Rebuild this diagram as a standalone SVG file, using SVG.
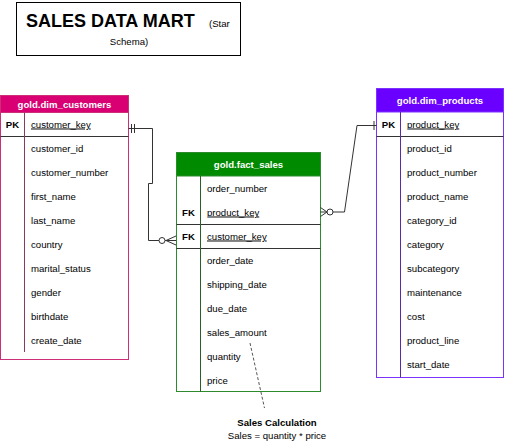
<svg xmlns="http://www.w3.org/2000/svg" width="505" height="441" viewBox="0 0 505 441">
<style>
text{font-family:"Liberation Sans",Arial,sans-serif;font-size:9.6px;fill:#000}
.hd{font-weight:bold;fill:#fff;text-anchor:middle}
.k{text-anchor:middle;font-weight:bold}
.u{text-decoration:underline}
.sep{stroke:#333;stroke-width:1}
.cn{fill:none;stroke:#333;stroke-width:1}
</style>
<rect width="505" height="441" fill="#fff"/>
<g id="title">
<rect x="16.5" y="2.5" width="224" height="53" fill="#fff" stroke="#000"/>
<text x="26" y="27" style="font-size:18px;font-weight:bold">SALES DATA MART</text>
<text x="209" y="27">(Star</text>
<text x="129" y="44.5" style="text-anchor:middle">Schema)</text>
</g>
<g id="dim_customers">
<rect x="0.5" y="95.5" width="128" height="264" fill="#fff" stroke="#cc2f78"/>
<rect x="0.5" y="95.5" width="128" height="17" fill="#d80073" stroke="#cc2f78"/>
<text class="hd" x="64.5" y="107.5">gold.dim_customers</text>
<line class="sep" x1="0.5" y1="136.5" x2="128.5" y2="136.5"/>
<line x1="24.5" y1="112.5" x2="24.5" y2="352" stroke="#8a3a62"/>
<text class="k" x="12.5" y="127.5">PK</text>
<text class="u" x="31" y="127.5">customer_key</text>
<text x="31" y="151.5">customer_id</text>
<text x="31" y="175.5">customer_number</text>
<text x="31" y="199.5">first_name</text>
<text x="31" y="223.5">last_name</text>
<text x="31" y="247.5">country</text>
<text x="31" y="271.5">marital_status</text>
<text x="31" y="295.5">gender</text>
<text x="31" y="319.5">birthdate</text>
<text x="31" y="343.5">create_date</text>
</g>
<g id="fact_sales">
<rect x="176.5" y="152.5" width="144" height="239" fill="#fff" stroke="#2d8a2d"/>
<rect x="176.5" y="152.5" width="144" height="23.5" fill="#008a00" stroke="#2d8a2d"/>
<text class="hd" x="248.5" y="167.5">gold.fact_sales</text>
<line class="sep" x1="176.5" y1="224.5" x2="320.5" y2="224.5"/>
<line class="sep" x1="176.5" y1="248.5" x2="320.5" y2="248.5"/>
<line x1="200.5" y1="176" x2="200.5" y2="391.5" stroke="#2a5e2a"/>
<text x="207" y="191.5">order_number</text>
<text class="k" x="188.5" y="215.5">FK</text>
<text class="u" x="207" y="215.5">product_key</text>
<text class="k" x="188.5" y="239.5">FK</text>
<text class="u" x="207" y="239.5">customer_key</text>
<text x="207" y="263.5">order_date</text>
<text x="207" y="287.5">shipping_date</text>
<text x="207" y="311.5">due_date</text>
<text x="207" y="335.5">sales_amount</text>
<text x="207" y="359.5">quantity</text>
<text x="207" y="383.5">price</text>
</g>
<g id="dim_products">
<rect x="376.5" y="88.5" width="127" height="289" fill="#fff" stroke="#7a33ff"/>
<rect x="376.5" y="88.5" width="127" height="23.5" fill="#6a00ff" stroke="#7a33ff"/>
<text class="hd" x="440" y="103.5">gold.dim_products</text>
<line class="sep" x1="376.5" y1="136.5" x2="503.5" y2="136.5"/>
<line x1="400.5" y1="112" x2="400.5" y2="377.5" stroke="#5a2aa8"/>
<text class="k" x="388.5" y="127.5">PK</text>
<text class="u" x="407" y="127.5">product_key</text>
<text x="407" y="151.5">product_id</text>
<text x="407" y="175.5">product_number</text>
<text x="407" y="199.5">product_name</text>
<text x="407" y="223.5">category_id</text>
<text x="407" y="247.5">category</text>
<text x="407" y="271.5">subcategory</text>
<text x="407" y="295.5">maintenance</text>
<text x="407" y="319.5">cost</text>
<text x="407" y="343.5">product_line</text>
<text x="407" y="367.5">start_date</text>
</g>
<g id="connectors">
<path class="cn" d="M128.5,128.5 H152.5 V183.5 H148.5 V240.5 H176"/>
<path class="cn" d="M131.5,124 V133 M134.5,124 V133"/>
<circle cx="162" cy="240.5" r="3" fill="#fff" stroke="#333"/>
<path class="cn" d="M166,240.5 L176,236 M166,240.5 L176,245"/>
<path class="cn" d="M320.5,212 H344.5 L357,125.5 H376.5"/>
<circle cx="330" cy="212" r="3" fill="#fff" stroke="#333"/>
<path class="cn" d="M327,212 L320.5,207.5 M327,212 L320.5,216.5"/>
<path class="cn" d="M374,121 V130"/>
<path d="M250,343 L264.5,408" fill="none" stroke="#555" stroke-dasharray="3 2"/>
</g>
<g id="note">
<text x="277" y="426" style="font-weight:bold;text-anchor:middle">Sales Calculation</text>
<text x="277" y="438.5" style="text-anchor:middle">Sales = quantity * price</text>
</g>
</svg>
